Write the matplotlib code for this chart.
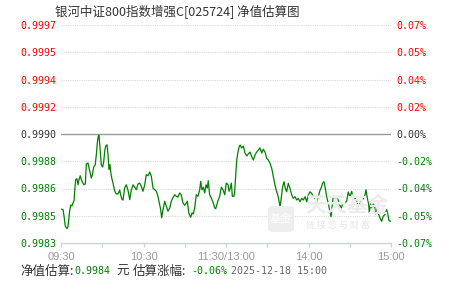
import matplotlib
matplotlib.use('Agg')
import matplotlib.pyplot as plt
from matplotlib.patches import FancyBboxPatch

# ---------------- data ----------------
title = "银河中证800指数增强C[025724] 净值估算图"
base_nav = 0.9990

# trading minutes after 09:30 (11:30/13:00 = 120)
minutes = [0, 1.5, 2.2, 3.1, 4.4, 5.1, 6.3, 7.1, 8.0, 8.7, 9.5, 10.0, 10.7, 11.6, 12.4, 13.1,
           14.0, 14.8, 15.5, 16.7, 17.7, 18.4, 19.6, 20.9, 22.0, 22.8, 23.8, 24.9, 25.7, 26.4,
           27.1, 27.6, 28.4, 29.3, 30.3, 31.1, 31.8, 32.5, 33.5, 34.2, 34.9, 35.6, 36.6, 37.8,
           39.1, 40.2, 41.5, 42.7, 43.4, 44.4, 45.1, 46.3, 47.5, 48.7, 50.0, 51.1, 52.4, 53.6,
           54.8, 56.0, 57.2, 58.4, 59.6, 60.9, 62.0, 63.3, 64.5, 65.7, 66.9, 68.1, 69.3, 70.5,
           71.8, 72.5, 73.2, 74.2, 75.4, 76.6, 77.8, 79.1, 80.2, 81.5, 82.7, 83.9, 85.1, 86.3,
           87.5, 88.7, 90.0, 91.1, 91.9, 92.9, 93.6, 94.3, 95.3, 96.2, 97.2, 98.4, 99.6, 100.9,
           101.6, 102.5, 103.5, 104.5, 105.5, 106.4, 107.1, 108.1, 109.3, 110.5, 111.8, 112.5,
           113.5, 114.2, 115.4, 116.6, 117.8, 119.1, 120.2, 121.5, 122.2, 123.1, 123.9, 124.6,
           125.8, 126.3, 127.1, 127.8, 128.7, 129.7, 130.4, 131.3, 132.6, 133.8, 135.1, 136.2,
           137.5, 138.7, 139.9, 141.1, 142.3, 143.5, 144.7, 146.0, 147.1, 148.4, 149.6, 150.8,
           152.0, 153.2, 154.4, 155.6, 156.9, 158.0, 159.3, 160.0, 161.2, 162.2, 163.1, 164.1,
           165.3, 166.5, 167.8, 168.9, 170.2, 171.4, 172.6, 173.8, 175.1, 176.2, 177.5, 178.7,
           179.9, 181.1, 182.3, 183.5, 184.7, 186.0, 187.1, 188.4, 189.6, 190.3, 191.3, 192.2,
           193.2, 194.4, 195.6, 196.4, 197.3, 198.0, 199.3, 200.5, 201.5, 202.7, 203.9, 205.1,
           206.5, 207.8, 208.9, 210.2, 211.4, 212.4, 213.8, 215.1, 216.2, 217.5, 218.7, 219.9,
           221.1, 221.8, 222.8, 223.8, 224.2, 225.1, 226.0, 227.1, 228.0, 228.9, 229.8, 231.1,
           232.0, 233.2, 234.4, 235.6, 236.9, 237.7, 238.5, 240]

# estimated change, percent
pct = [-0.0482, -0.0486, -0.0527, -0.0591, -0.0608, -0.0593, -0.0494, -0.0456, -0.0462, -0.0443,
       -0.0428, -0.0358, -0.0293, -0.0287, -0.0326, -0.0293, -0.0268, -0.0293, -0.0308, -0.0326,
       -0.0321, -0.0193, -0.0186, -0.0238, -0.0283, -0.0261, -0.0212, -0.0197, -0.0133, -0.0058,
       -0.0015, -0.0008, -0.0090, -0.0199, -0.0212, -0.0175, -0.0109, -0.0079, -0.0069, -0.0133,
       -0.0229, -0.0197, -0.0272, -0.0315, -0.0368, -0.0385, -0.0385, -0.0360, -0.0392, -0.0421,
       -0.0424, -0.0347, -0.0326, -0.0360, -0.0422, -0.0360, -0.0326, -0.0342, -0.0358, -0.0321,
       -0.0315, -0.0336, -0.0368, -0.0326, -0.0261, -0.0268, -0.0244, -0.0272, -0.0347, -0.0358,
       -0.0368, -0.0400, -0.0454, -0.0486, -0.0539, -0.0486, -0.0432, -0.0464, -0.0496, -0.0475,
       -0.0432, -0.0407, -0.0390, -0.0400, -0.0405, -0.0379, -0.0392, -0.0443, -0.0458, -0.0443,
       -0.0432, -0.0507, -0.0522, -0.0535, -0.0507, -0.0514, -0.0475, -0.0390, -0.0400, -0.0358,
       -0.0304, -0.0358, -0.0342, -0.0379, -0.0326, -0.0347, -0.0300, -0.0390, -0.0411, -0.0437,
       -0.0475, -0.0480, -0.0450, -0.0428, -0.0400, -0.0342, -0.0358, -0.0390, -0.0315, -0.0326,
       -0.0368, -0.0347, -0.0315, -0.0400, -0.0400, -0.0368, -0.0261, -0.0167, -0.0116, -0.0077,
       -0.0071, -0.0090, -0.0077, -0.0122, -0.0141, -0.0128, -0.0116, -0.0146, -0.0167, -0.0135,
       -0.0116, -0.0103, -0.0090, -0.0122, -0.0098, -0.0116, -0.0156, -0.0167, -0.0188, -0.0218,
       -0.0274, -0.0328, -0.0371, -0.0403, -0.0467, -0.0424, -0.0338, -0.0306, -0.0347, -0.0371,
       -0.0317, -0.0347, -0.0392, -0.0413, -0.0403, -0.0424, -0.0413, -0.0435, -0.0413, -0.0424,
       -0.0403, -0.0435, -0.0392, -0.0371, -0.0381, -0.0403, -0.0413, -0.0435, -0.0403, -0.0360,
       -0.0338, -0.0315, -0.0306, -0.0347, -0.0403, -0.0445, -0.0499, -0.0531, -0.0456, -0.0400,
       -0.0411, -0.0405, -0.0422, -0.0456, -0.0475, -0.0443, -0.0443, -0.0430, -0.0372, -0.0405,
       -0.0368, -0.0411, -0.0411, -0.0432, -0.0462, -0.0443, -0.0415, -0.0417, -0.0392, -0.0358,
       -0.0411, -0.0454, -0.0507, -0.0450, -0.0475, -0.0450, -0.0462, -0.0514, -0.0482, -0.0518,
       -0.0539, -0.0561, -0.0527, -0.0518, -0.0486, -0.0514, -0.0557, -0.0561]

y_ticks = [-0.07, -0.0525, -0.035, -0.0175, 0.0, 0.0175, 0.035, 0.0525, 0.07]
left_labels = ['0.9983', '0.9985', '0.9986', '0.9988', '0.9990', '0.9992', '0.9994', '0.9995', '0.9997']
right_labels = ['-0.07%', '-0.05%', '-0.04%', '-0.02%', '0.00%', '0.02%', '0.04%', '0.05%', '0.07%']

x_ticks = [0, 30, 60, 90, 120, 150, 180, 210, 240]
x_labels = ['09:30', '', '10:30', '', '11:30/13:00', '', '14:00', '', '15:00']

nav_text = '0.9984'
chg_text = '-0.06%'
time_text = '2025-12-18 15:00'

# ---------------- style ----------------
GREEN = '#008000'
RED = '#ff0000'
DARK = '#333333'
MONO = 'DejaVu Sans Mono'
CJK = ['Noto Sans CJK SC', 'DejaVu Sans']

W, H = 451, 281
fig = plt.figure(figsize=(W / 100, H / 100), dpi=100)
ax = fig.add_axes([61 / W, 1 - 243 / H, 330 / W, 218 / H])

def lab_color(v):
    if v > 0:
        return RED
    if v < 0:
        return GREEN
    return DARK

# grid
for v in y_ticks:
    if v == 0:
        ax.axhline(v, color='#999999', lw=1.0, zorder=1)
    elif v > -0.07:
        ax.axhline(v, color='#d9d9d9', lw=0.8, ls=(0, (1, 1)), zorder=1)

# watermark
wm = FancyBboxPatch((268 / W, 1 - 232 / H), 26 / W, 26 / H, boxstyle='round,pad=0,rounding_size=0.012',
                    transform=fig.transFigure, facecolor='#eeeeee', edgecolor='none', zorder=0)
fig.patches.append(wm)
fig.text(281 / W, 1 - 219 / H, '基金', family=CJK, fontsize=8, color='#ffffff', ha='center', va='center')
fig.text(305 / W, 1 - 205 / H, '天天基金', family=CJK, fontsize=15, color='#ececec', ha='left', va='center',
         fontweight='bold', zorder=0)
fig.text(306 / W, 1 - 225 / H, '链 接 您 与 财 富', family=CJK, fontsize=6.5, color='#e6e6e6', ha='left',
         va='center', zorder=0)

ax.patch.set_alpha(0)
ax.plot(minutes, pct, color=GREEN, lw=0.9, zorder=3)

ax.set_xlim(0, 240)
ax.set_ylim(-0.07, 0.07)
for s in ['left', 'right', 'top']:
    ax.spines[s].set_visible(False)
ax.spines['bottom'].set_color('#c8d2dc')
ax.spines['bottom'].set_linewidth(1.0)

ax.set_xticks(x_ticks)
ax.set_xticklabels(x_labels, fontfamily='Liberation Sans', fontsize=8, color='#999999')
ax.tick_params(axis='x', direction='out', length=3.2, width=0.9, color='#c8d2dc', pad=3)

ax.set_yticks(y_ticks)
ax.set_yticklabels(left_labels, fontfamily=MONO, fontsize=7.2)
ax.tick_params(axis='y', length=0, pad=3)
for t, v in zip(ax.get_yticklabels(), y_ticks):
    t.set_color(lab_color(v))

ax2 = ax.twinx()
ax2.set_ylim(-0.07, 0.07)
for s in ['left', 'right', 'top', 'bottom']:
    ax2.spines[s].set_visible(False)
ax2.set_yticks(y_ticks)
ax2.set_yticklabels(right_labels, fontfamily=MONO, fontsize=7.2)
ax2.tick_params(axis='y', length=0, pad=4)
for t, v in zip(ax2.get_yticklabels(), y_ticks):
    t.set_color(lab_color(v))

# title
fig.text(177 / W, 1 - 12 / H, title, family=CJK, fontsize=9, color=DARK, ha='center', va='center')

# footer
fy = 1 - 271 / H
fig.text(20 / W, fy, '净值估算:', family=CJK, fontsize=9, color=DARK, ha='left', va='center')
fig.text(74 / W, fy, nav_text, family=MONO, fontsize=7.2, color=GREEN, ha='left', va='center')
fig.text(116 / W, fy, '元', family=CJK, fontsize=9, color=DARK, ha='left', va='center')
fig.text(133 / W, fy, '估算涨幅:', family=CJK, fontsize=9, color=DARK, ha='left', va='center')
fig.text(191 / W, fy, chg_text, family=MONO, fontsize=7.2, color=GREEN, ha='left', va='center')
fig.text(231 / W, fy, time_text, family=MONO, fontsize=7.2, color='#666666', ha='left', va='center')

fig.savefig('out.png', dpi=100)
